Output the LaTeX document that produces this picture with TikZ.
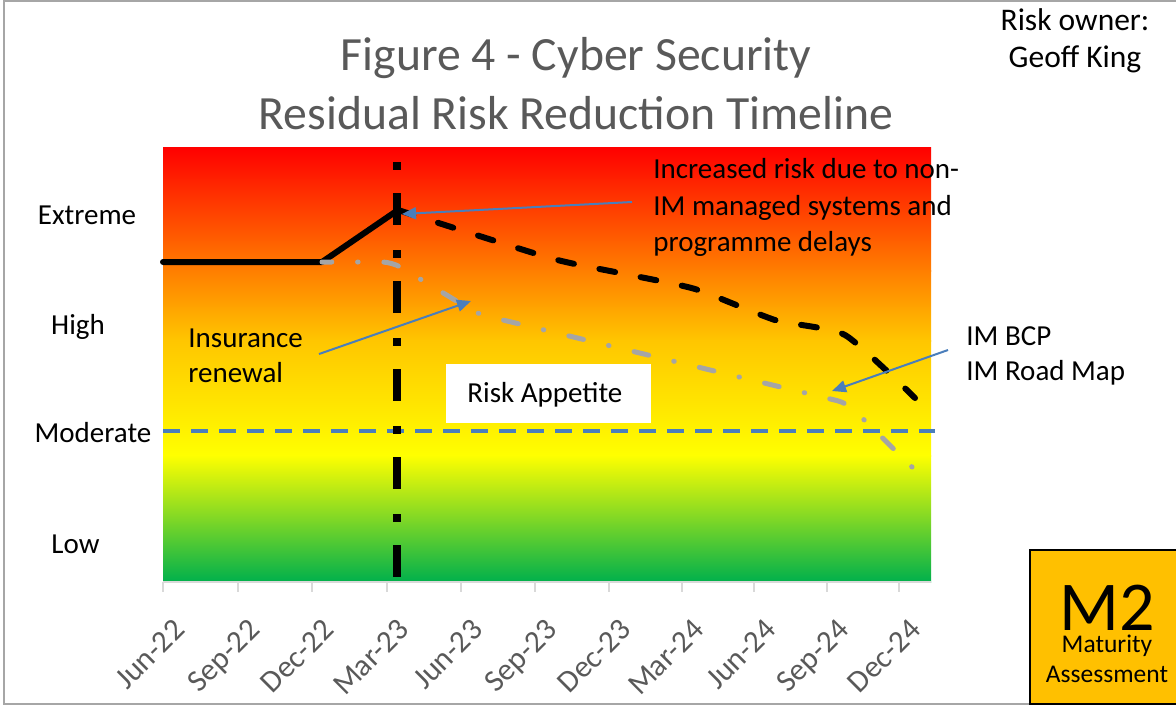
\documentclass[tikz,border=0pt]{standalone}
\usepackage{fontspec}
\setmainfont{Carlito}
\usetikzlibrary{arrows.meta}
\definecolor{titlegray}{HTML}{595959}
\definecolor{framegray}{HTML}{A6A6A6}
\definecolor{tickgray}{HTML}{D9D9D9}
\definecolor{seriesgray}{HTML}{A5A5A5}
\definecolor{arrowblue}{HTML}{4A7EBB}
\definecolor{modblue}{HTML}{4A7EBB}
\definecolor{goldbox}{HTML}{FFC000}
\definecolor{gA}{HTML}{FF0000}
\definecolor{gB}{HTML}{FF7E00}
\definecolor{gC}{HTML}{FFC600}
\definecolor{gD}{HTML}{FFFF00}
\definecolor{gE}{HTML}{00B04C}
\tikzset{
  titletext/.style={font=\fontsize{23.85}{28}\selectfont, text=titlegray, inner sep=0pt, anchor=base},
  labeltext/.style={font=\fontsize{14.5}{17.7}\selectfont, text=black, inner sep=0pt},
  ownertext/.style={font=\fontsize{15.75}{18.5}\selectfont, text=black, inner sep=0pt, anchor=base},
  ticklabel/.style={font=\fontsize{15.5}{18}\selectfont, text=titlegray, inner sep=0pt, anchor=north east, rotate=45},
  callout/.style={draw=arrowblue, line width=1pt, -{Triangle[length=7pt,width=6pt]}, arrowblue},
  solidseries/.style={draw=black, line width=3pt, line join=round, line cap=round},
  dashseries/.style={draw=black, line width=3pt, line cap=round, dash pattern=on 8pt off 13pt},
  grayseries/.style={draw=seriesgray, line width=2.5pt, line cap=round, dash pattern=on 0.25pt off 12.9pt on 7.5pt off 12.9pt},
  vmarker/.style={draw=black, line width=4pt, dash pattern=on 4pt off 11.5pt on 16pt off 12.5pt},
  modline/.style={draw=modblue, line width=2pt, dash pattern=on 8.5pt off 5.5pt}
}
\begin{document}
\begin{tikzpicture}[x=0.5pt,y=-0.5pt]
\useasboundingbox (0,0) rectangle (1176,719);
% frame
\draw[framegray, line width=1pt] (4,1) rectangle (1200,704);
% plot area gradient
\shade[top color=gA, bottom color=gB] (163,147) rectangle (931,271);
\shade[top color=gB, bottom color=gC] (163,270) rectangle (931,341);
\shade[top color=gC, bottom color=gD] (163,340) rectangle (931,456);
\shade[top color=gD, bottom color=gE] (163,455) rectangle (931,582);
% axis and ticks
\draw[tickgray, line width=1pt] (163,582) -- (931,582);
\foreach \x/\lab [count=\i] in {163/Jun-22,238/Sep-22,312/Dec-22,387/Mar-23,461/Jun-23,535/Sep-23,609/Dec-23,682/Mar-24,754/Jun-24,827/Sep-24,899/Dec-24}{
  \draw[tickgray, line width=1pt] (\x,582) -- (\x,592);
  \node[ticklabel] (xl\i) at (\x+9,617) {\lab};
}
% moderate line
\coordinate (modL) at (163,431);
\coordinate (modR) at (935,431);
\draw[modline] (modL) -- (modR);
% vertical marker
\coordinate (vtop) at (397,162);
\coordinate (vbot) at (397,582);
\draw[vmarker] (vtop) -- (vbot);
% series
\coordinate (s0) at (163,262);
\coordinate (s1) at (322,262);
\coordinate (peak) at (398,210);
\coordinate (gend) at (912,467);
\draw[solidseries] (s0) -- (s1) -- (peak);
\draw[dashseries] plot[smooth, tension=0.35] coordinates {(398,210) (550,258) (620,273) (695,289) (775,320) (845,335) (915,398)};
\draw[grayseries, rounded corners=5pt] (gend) -- (847,403) -- (478,314) -- (392,262) -- (s1);
% risk appetite box
\node[draw=none, fill=white, minimum width=102.5pt, minimum height=29.5pt, inner sep=0pt, anchor=north west] (appbox) at (446,364) {};
\node[labeltext, anchor=base west] (app) at (467,402) {Risk Appetite};
% title
\node[titletext] (title1) at (576,70) {Figure 4 - Cyber Security};
\node[titletext] (title2) at (576,129) {Residual Risk Reduction Timeline};
% owner
\node[ownertext] (owner1) at (1075,30) {Risk owner:};
\node[ownertext] (owner2) at (1075,67) {Geoff King};
% y labels
\node[labeltext, anchor=base] (yext) at (87,224) {Extreme};
\node[labeltext, anchor=base] (yhigh) at (78,334) {High};
\node[labeltext, anchor=base] (ymod) at (93,442) {Moderate};
\node[labeltext, anchor=base] (ylow) at (75.5,553) {Low};
% annotations
\node[labeltext, anchor=base west] (ins1) at (188,347) {Insurance};
\node[labeltext, anchor=base west] (ins2) at (188,382) {renewal};
\node[labeltext, anchor=base west] (inc1) at (653,178) {Increased risk due to non-};
\node[labeltext, anchor=base west] (inc2) at (653,215) {IM managed systems and};
\node[labeltext, anchor=base west] (inc3) at (653,251) {programme delays};
\node[labeltext, anchor=base west] (bcp1) at (966,345) {IM BCP};
\node[labeltext, anchor=base west] (bcp2) at (966,380) {IM Road Map};
% callouts
\coordinate (incTail) at (632,202);
\coordinate (incTip) at (402,214);
\coordinate (insTail) at (319,354);
\coordinate (insTip) at (471,301);
\coordinate (bcpTail) at (948,350);
\coordinate (bcpTip) at (832,391);
\draw[callout] (incTail) -- (incTip);
\draw[callout] (insTail) -- (insTip);
\draw[callout] (bcpTail) -- (bcpTip);
% maturity box
\node[draw=black, fill=goldbox, line width=1pt, minimum width=80.5pt, minimum height=77pt, inner sep=0pt, anchor=north west] (mbox) at (1029,549) {};
\node[font=\fontsize{35}{40}\selectfont, inner sep=0pt, anchor=base] (m2) at (1107,630) {M2};
\node[font=\fontsize{12.75}{15}\selectfont, inner sep=0pt, anchor=base] (mat1) at (1107,652) {Maturity};
\node[font=\fontsize{12.75}{15}\selectfont, inner sep=0pt, anchor=base] (mat2) at (1107,682) {Assessment};
\end{tikzpicture}
\end{document}
